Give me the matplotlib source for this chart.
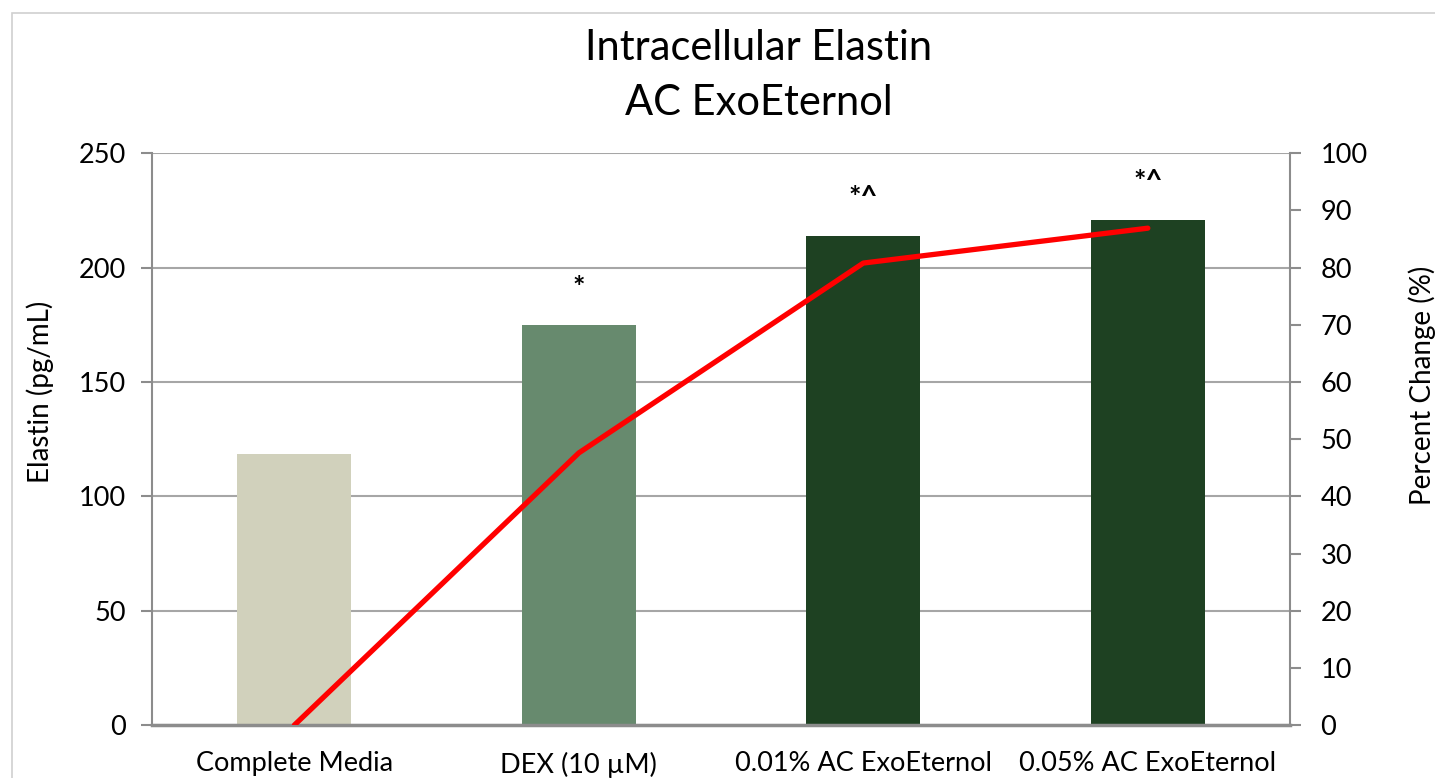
import matplotlib.pyplot as plt
from matplotlib.patches import Rectangle

plt.rcParams['font.family'] = ['Lato', 'DejaVu Sans']

categories = ["Complete Media", "DEX (10 \u00b5M)", "0.01% AC ExoEternol", "0.05% AC ExoEternol"]
elastin = [118.4, 174.8, 214.0, 221.0]
pct_change = [0.0, 47.6, 80.8, 86.9]
marks = ["", "*", "*^", "*^"]
bar_colors = ["#d1d1bc", "#678a6e", "#1e4122", "#1e4122"]

fig = plt.figure(figsize=(14.35, 7.78), dpi=100)
ax = fig.add_axes([0.106, 0.068, 0.793, 0.735])

# light frame around the chart area
fig.patches.append(Rectangle((12 / 1435, -0.1), 1.2, 1 - 13 / 778 + 0.1,
                             transform=fig.transFigure, fill=False,
                             edgecolor="#d0d0d0", linewidth=1.2))

x = range(len(categories))
ax.bar(x, elastin, width=0.4, color=bar_colors, zorder=2)
ax.set_xlim(-0.5, 3.5)
ax.set_ylim(0, 250)
ax.set_yticks([0, 50, 100, 150, 200, 250])
ax.yaxis.grid(True, color="#a6a6a6", linewidth=1.5, zorder=0)
ax.set_axisbelow(True)
ax.set_xticks(list(x))
ax.set_xticklabels(categories, fontsize=19.5)
ax.tick_params(axis="x", length=0, pad=19)
ax.tick_params(axis="y", labelsize=19.5, length=8, width=1.5, color="#8c8c8c", pad=11)

for s in ["top", "right"]:
    ax.spines[s].set_visible(False)
ax.spines["left"].set_color("#8c8c8c")
ax.spines["left"].set_linewidth(1.5)
ax.spines["bottom"].set_color("#8c8c8c")
ax.spines["bottom"].set_linewidth(2.5)

for i, m in enumerate(marks):
    if m:
        ax.annotate(m, (i, elastin[i]), xytext=(0, 27), textcoords="offset points",
                    ha="center", va="center", fontsize=21, fontweight="bold")

ax2 = ax.twinx()
ax2.plot(x, pct_change, color="#ff0000", linewidth=3.8, solid_capstyle="round", zorder=3)
ax2.set_ylim(0, 100)
ax2.set_yticks(range(0, 101, 10))
ax2.tick_params(axis="y", labelsize=19.5, length=8, width=1.5, color="#8c8c8c", pad=14)
for s in ["top", "left", "bottom"]:
    ax2.spines[s].set_visible(False)
ax2.spines["right"].set_color("#8c8c8c")
ax2.spines["right"].set_linewidth(1.5)

fig.text(40 / 1435, 1 - 392 / 778, "Elastin (pg/mL)", rotation=90,
         ha="center", va="center", fontsize=20)
fig.text(1422 / 1435, 1 - 385 / 778, "Percent Change (%)", rotation=90,
         ha="center", va="center", fontsize=20)

fig.text(759 / 1435, 1 - 48 / 778, "Intracellular Elastin", ha="center", va="center", fontsize=30)
fig.text(759 / 1435, 1 - 103 / 778, "AC ExoEternol", ha="center", va="center", fontsize=30)

fig.savefig("out.png", dpi=100)
